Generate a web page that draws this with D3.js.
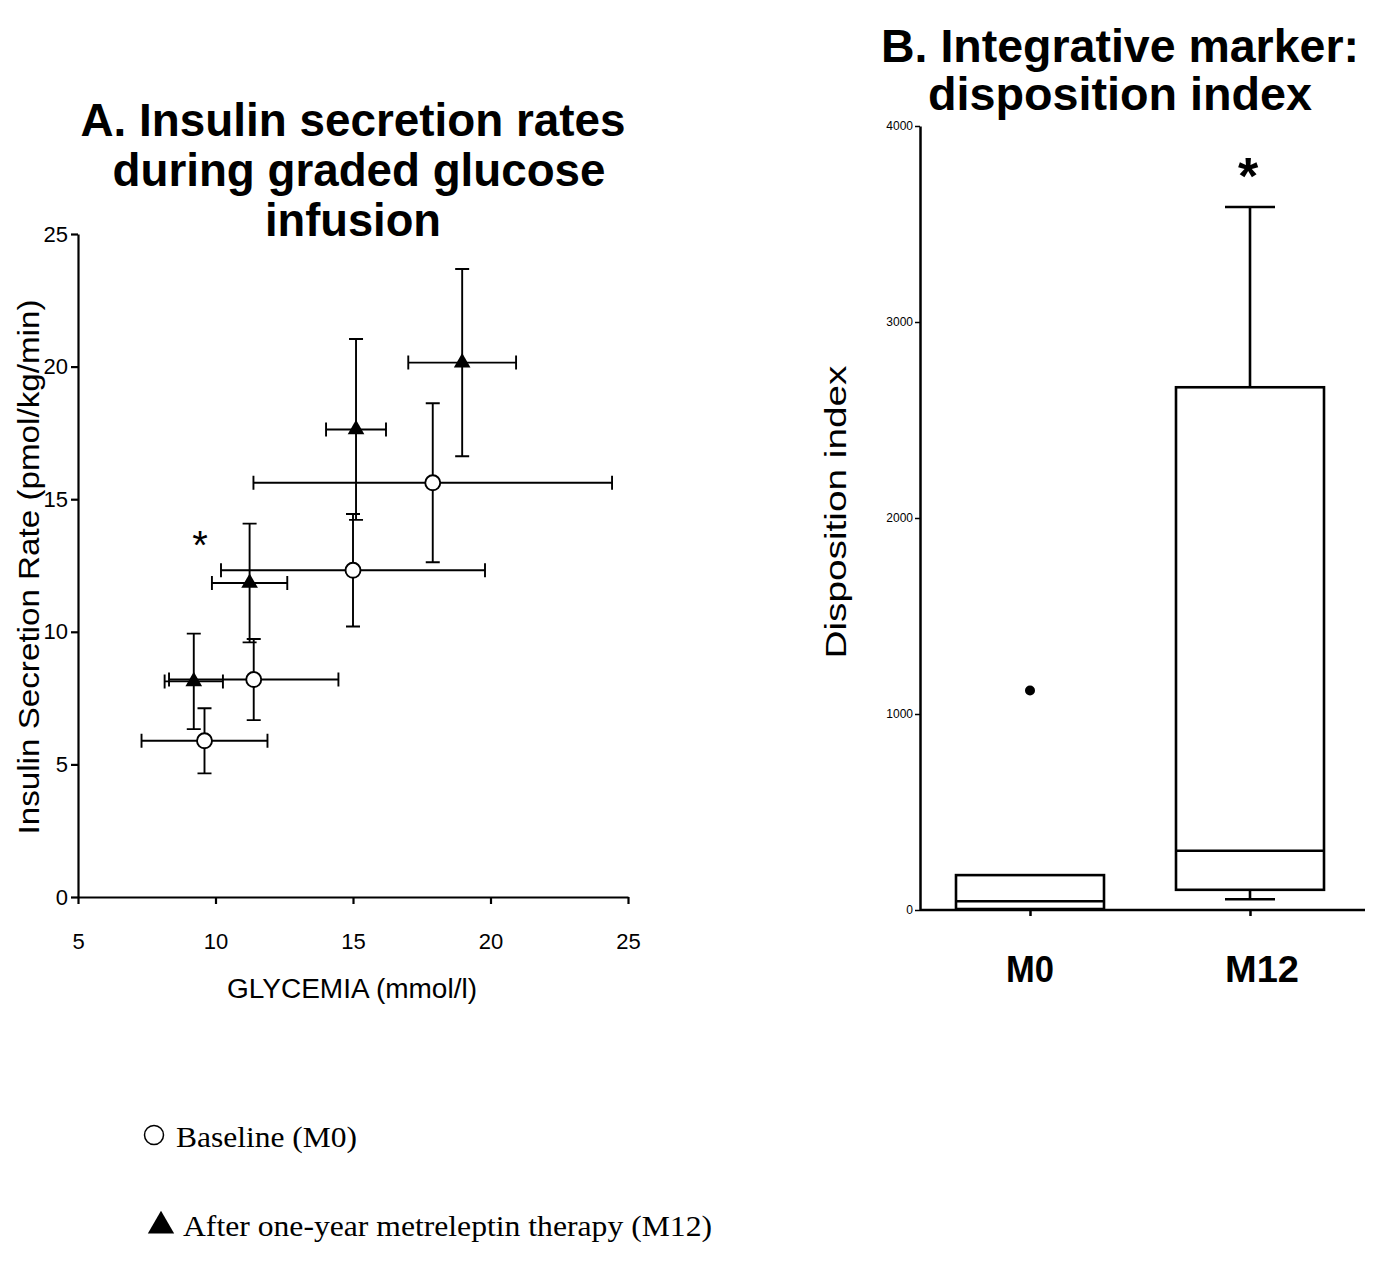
<!DOCTYPE html>
<html>
<head>
<meta charset="utf-8">
<script src="https://cdn.jsdelivr.net/npm/d3@7"></script>
<style>
  html, body { margin: 0; padding: 0; background: #fff; }
  svg { display: block; }
  text { font-family: "Liberation Sans", Arial, sans-serif; fill: #000; }
</style>
</head>
<body>
<svg id="chart" width="1374" height="1267"></svg>
<script>
// ---------- Panel A data ----------
const baselineX   = [9.60, 11.39, 15.00, 17.90];
const baselineXErr= [2.29, 3.08, 4.80, 6.52];
const baselineY   = [5.89, 8.20, 12.32, 15.62];
const baselineYErr= [1.23, 1.53, 2.12, 3.00];

const m12X    = [9.21, 11.24, 15.11, 18.97];
const m12XErr = [1.06, 1.37, 1.09, 1.96];
const m12Y    = [8.13, 11.84, 17.63, 20.15];
const m12YErr = [1.80, 2.24, 3.41, 3.53];

const xTicksA = [5, 10, 15, 20, 25];
const yTicksA = [0, 5, 10, 15, 20, 25];
const starA = {x: 9.44, y: 12.75};

// ---------- Panel B data ----------
const groups     = ["M0", "M12"];
const boxMin     = [5, 55];
const boxQ1      = [5, 103];
const boxMedian  = [45, 302];
const boxQ3      = [178, 2667];
const boxMax     = [178, 3587];
const outliers   = [[1120], []];
const yTicksB    = [0, 1000, 2000, 3000, 4000];

const svg = d3.select("#chart");

function fitText(g, str, x, y, size, len, opts = {}) {
  const t = g.append("text").attr("x", x).attr("y", y)
    .attr("text-anchor", opts.anchor || "middle")
    .style("font-size", size + "px")
    .attr("textLength", len).attr("lengthAdjust", "spacingAndGlyphs")
    .text(str);
  if (opts.bold) t.style("font-weight", "bold");
  if (opts.family) t.style("font-family", opts.family);
  if (opts.transform) t.attr("transform", opts.transform);
  return t;
}

// ================= Panel A =================
const xA = d3.scaleLinear().domain([5, 25]).range([78, 628]);
const yA = d3.scaleLinear().domain([0, 25]).range([897, 234]);
const gA = svg.append("g");

fitText(gA, "A. Insulin secretion rates", 353, 136, 46, 545, {bold: true});
fitText(gA, "during graded glucose", 359, 186, 46, 493, {bold: true});
fitText(gA, "infusion", 353, 236, 46, 176, {bold: true});

const axA_x = gA.append("g").attr("transform", `translate(0,${yA(0)})`)
  .call(d3.axisBottom(xA).tickValues(xTicksA).tickSize(7).tickSizeOuter(0).tickPadding(29));
const axA_y = gA.append("g").attr("transform", `translate(${xA(5)},0)`)
  .call(d3.axisLeft(yA).tickValues(yTicksA).tickSize(7).tickSizeOuter(0).tickPadding(3));
[axA_x, axA_y].forEach(a => {
  a.select(".domain").attr("stroke", "#000").attr("stroke-width", 2.2);
  a.selectAll(".tick line").attr("stroke", "#000").attr("stroke-width", 2.2);
  a.selectAll(".tick text").style("font-size", "22px").style("font-family", "Liberation Sans, Arial, sans-serif");
});

fitText(gA, "GLYCEMIA (mmol/l)", 352, 998, 27, 250);
fitText(gA, "Insulin Secretion Rate (pmol/kg/min)", 0, 0, 30, 535, {transform: "translate(39,567) rotate(-90)"});

function drawErrors(g, xs, xe, ys, ye) {
  const cap = 7;
  xs.forEach((x, i) => {
    const cx = xA(x), cy = yA(ys[i]);
    const x0 = xA(x - xe[i]), x1 = xA(x + xe[i]);
    const y0 = yA(ys[i] - ye[i]), y1 = yA(ys[i] + ye[i]);
    const p = d3.path();
    p.moveTo(x0, cy); p.lineTo(x1, cy);
    p.moveTo(x0, cy - cap); p.lineTo(x0, cy + cap);
    p.moveTo(x1, cy - cap); p.lineTo(x1, cy + cap);
    p.moveTo(cx, y0); p.lineTo(cx, y1);
    p.moveTo(cx - cap, y0); p.lineTo(cx + cap, y0);
    p.moveTo(cx - cap, y1); p.lineTo(cx + cap, y1);
    g.append("path").attr("d", p.toString()).attr("fill", "none")
      .attr("stroke", "#000").attr("stroke-width", 1.9);
  });
}
drawErrors(gA, baselineX, baselineXErr, baselineY, baselineYErr);
drawErrors(gA, m12X, m12XErr, m12Y, m12YErr);

gA.selectAll("circle.base").data(baselineX).enter().append("circle")
  .attr("cx", d => xA(d)).attr("cy", (d, i) => yA(baselineY[i])).attr("r", 7.5)
  .attr("fill", "#fff").attr("stroke", "#000").attr("stroke-width", 1.9);
const tri = d3.symbol().type(d3.symbolTriangle).size(120);
gA.selectAll("path.m12").data(m12X).enter().append("path")
  .attr("d", tri).attr("transform", (d, i) => `translate(${xA(d)},${yA(m12Y[i])})`)
  .attr("fill", "#000");

gA.append("text").attr("x", xA(starA.x)).attr("y", yA(starA.y)).attr("text-anchor", "middle")
  .style("font-size", "40px").text("*");

// legend
svg.append("circle").attr("cx", 154).attr("cy", 1135).attr("r", 9.5)
  .attr("fill", "#fff").attr("stroke", "#000").attr("stroke-width", 1.5);
fitText(svg, "Baseline (M0)", 176, 1147, 30, 181, {anchor: "start", family: "Liberation Serif, Times New Roman, serif"});
svg.append("path").attr("d", d3.symbol().type(d3.symbolTriangle).size(300))
  .attr("transform", "translate(161,1226)").attr("fill", "#000");
fitText(svg, "After one-year metreleptin therapy (M12)", 183, 1236, 30, 529, {anchor: "start", family: "Liberation Serif, Times New Roman, serif"});

// ================= Panel B =================
const xB = d3.scalePoint().domain(groups).range([920, 1360]).padding(0.5);
const yB = d3.scaleLinear().domain([0, 4000]).range([910, 126]);
const gB = svg.append("g");

fitText(gB, "B. Integrative marker:", 1120, 62, 46, 478, {bold: true});
fitText(gB, "disposition index", 1120, 110, 46, 384, {bold: true});

const axB_y = gB.append("g").attr("transform", `translate(920,0)`)
  .call(d3.axisLeft(yB).tickValues(yTicksB).tickFormat(d3.format("d")).tickSize(5).tickSizeOuter(0).tickPadding(2));
axB_y.select(".domain").attr("stroke", "#000").attr("stroke-width", 2.5);
axB_y.selectAll(".tick line").attr("stroke", "#000").attr("stroke-width", 1.5);
axB_y.selectAll(".tick text").style("font-size", "12px").style("font-family", "Liberation Sans, Arial, sans-serif");

gB.append("line").attr("x1", 920).attr("x2", 1365).attr("y1", yB(0)).attr("y2", yB(0))
  .attr("stroke", "#000").attr("stroke-width", 2.5);
const axB_x = gB.append("g").attr("transform", `translate(0,${yB(0)})`)
  .call(d3.axisBottom(xB).tickSize(6).tickSizeOuter(0).tickFormat(""));
axB_x.select(".domain").remove();
axB_x.selectAll(".tick line").attr("stroke", "#000").attr("stroke-width", 2.5);
const labelDx = [0, 12];
const labelLen = [48, 74];
groups.forEach((g, i) => {
  fitText(gB, g, xB(g) + labelDx[i], 982, 36, labelLen[i], {bold: true});
});

fitText(gB, "Disposition index", 0, 0, 29, 293, {transform: "translate(846,512) rotate(-90)"});

const boxW = 148, capW = 50;
groups.forEach((g, i) => {
  const cx = xB(g);
  const sw = 2.6;
  if (boxMax[i] > boxQ3[i]) {
    gB.append("line").attr("x1", cx).attr("x2", cx).attr("y1", yB(boxQ3[i])).attr("y2", yB(boxMax[i]))
      .attr("stroke", "#000").attr("stroke-width", sw);
    gB.append("line").attr("x1", cx - capW/2).attr("x2", cx + capW/2).attr("y1", yB(boxMax[i])).attr("y2", yB(boxMax[i]))
      .attr("stroke", "#000").attr("stroke-width", sw);
  }
  if (boxMin[i] < boxQ1[i]) {
    gB.append("line").attr("x1", cx).attr("x2", cx).attr("y1", yB(boxQ1[i])).attr("y2", yB(boxMin[i]))
      .attr("stroke", "#000").attr("stroke-width", sw);
    gB.append("line").attr("x1", cx - capW/2).attr("x2", cx + capW/2).attr("y1", yB(boxMin[i])).attr("y2", yB(boxMin[i]))
      .attr("stroke", "#000").attr("stroke-width", sw);
  }
  gB.append("rect").attr("x", cx - boxW/2).attr("width", boxW)
    .attr("y", yB(boxQ3[i])).attr("height", yB(boxQ1[i]) - yB(boxQ3[i]))
    .attr("fill", "#fff").attr("stroke", "#000").attr("stroke-width", sw);
  gB.append("line").attr("x1", cx - boxW/2).attr("x2", cx + boxW/2).attr("y1", yB(boxMedian[i])).attr("y2", yB(boxMedian[i]))
    .attr("stroke", "#000").attr("stroke-width", sw);
  outliers[i].forEach(v => {
    gB.append("ellipse").attr("cx", cx).attr("cy", yB(v)).attr("rx", 5).attr("ry", 5).attr("fill", "#000");
  });
});
gB.append("text").attr("x", xB("M12") - 2).attr("y", yB(boxMax[1]) - 13).attr("text-anchor", "middle")
  .style("font-size", "52px").style("font-weight", "bold").text("*");
</script>
</body>
</html>
